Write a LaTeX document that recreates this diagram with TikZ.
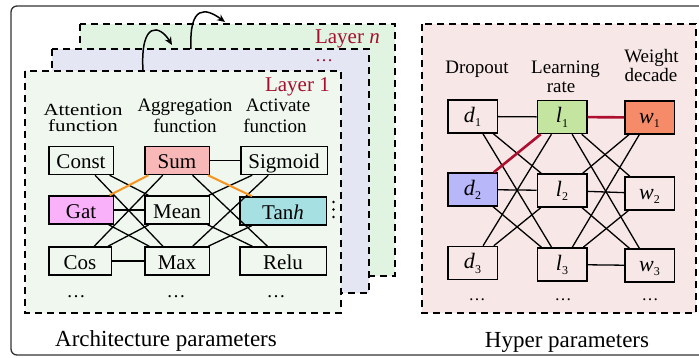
\documentclass[tikz,border=0pt]{standalone}
\usepackage{graphicx}
\usepackage{fontspec}
\setmainfont{Liberation Serif}
\usetikzlibrary{arrows.meta}
\definecolor{frameC}{HTML}{333333}
\definecolor{layerA}{HTML}{EFF7EE}
\definecolor{layerB}{HTML}{E5E6F4}
\definecolor{layerN}{HTML}{E0F4E1}
\definecolor{hyperbg}{HTML}{F8E7E7}
\definecolor{sumC}{HTML}{F9B8B8}
\definecolor{gatC}{HTML}{F9B1F9}
\definecolor{tanhC}{HTML}{A7E0E3}
\definecolor{lC}{HTML}{C3E5A0}
\definecolor{wC}{HTML}{F68B69}
\definecolor{dC}{HTML}{B7B7F9}
\definecolor{orangeline}{HTML}{F7931E}
\definecolor{redline}{HTML}{AF0F2F}
\definecolor{layertext}{HTML}{A50E2D}
\newcommand\hvar[2]{\textit{#1}\raisebox{-4.3pt}{\fontsize{12}{12}\selectfont #2}}
\newcommand\wideatt[1]{\scalebox{1.23}[1]{#1}}
\begin{document}
\begin{tikzpicture}[x=1pt,y=-1pt,
  frame/.style={draw=frameC, line width=1.3pt, rounded corners=6pt},
  dashbox/.style={draw=black, line width=2.4pt, dash pattern=on 7pt off 5pt},
  lbl/.style={font=\fontsize{19}{19}\selectfont, inner sep=0pt, anchor=base},
  attlbl/.style={font=\fontsize{17}{16}\selectfont, inner sep=0pt, align=center, anchor=base},
  title/.style={font=\fontsize{23}{23}\selectfont, inner sep=0pt, anchor=base},
  layertxt/.style={font=\fontsize{21}{21}\selectfont, text=layertext, inner sep=0pt},
  abox/.style={draw, line width=1.5pt, inner sep=0pt, minimum width=64.5pt, minimum height=28pt,
    font=\fontsize{21}{21}\selectfont, text height=17pt, text depth=0pt},
  wbox/.style={abox, minimum width=86.5pt},
  hbox/.style={draw, line width=1.5pt, inner sep=0pt, minimum width=49.5pt, minimum height=33pt,
    font=\fontsize{22}{22}\selectfont, text height=12pt, text depth=0pt},
  dotsl/.style={font=\fontsize{19}{19}\selectfont, inner sep=0pt, anchor=base},
  conn/.style={line width=1.3pt},
  orng/.style={line width=2pt, draw=orangeline},
  redl/.style={line width=2.6pt, draw=redline},
  flow/.style={line width=1.5pt, -{Stealth[length=8pt,width=7pt]}}
]
\useasboundingbox (0,0) rectangle (699,358);
\begin{scope}
\clip (0,0) rectangle (699,358);
\draw[frame] (11,6) rectangle (720,355);
\end{scope}

% layer boxes
\draw[dashbox, fill=layerN] (80,24) rectangle (395,276);
\draw[dashbox, fill=layerB] (52,49) rectangle (369,293);
\draw[dashbox, fill=layerA] (25,71) rectangle (341,313);
\draw[dashbox, fill=hyperbg] (422,24) rectangle (696,313);

% arrows between layers
\coordinate (a1s) at (143,71);
\coordinate (a1e) at (172,45);
\coordinate (a2s) at (191,49);
\coordinate (a2e) at (225,22);
\draw[flow] (a1s) .. controls (140,20) and (160,25) .. (a1e);
\draw[flow] (a2s) .. controls (189,4) and (206,8) .. (a2e);

% layer texts
\node[layertxt, anchor=base east] (lnt) at (380,43.3) {Layer \textit{n}};
\node[layertxt, anchor=base, font=\fontsize{18}{18}\selectfont] (ldots) at (324,62) {…};
\node[layertxt, anchor=base east] (l1t) at (330,91.7) {Layer 1};

% column labels
\node[attlbl] (att) at (83,131.3) {\wideatt{Attention}\\\wideatt{function}};
\node[lbl] (agg1) at (185,111.7) {Aggregation};
\node[lbl] (agg2) at (185,132.7) {function};
\node[lbl] (act1) at (278,112) {Activate};
\node[lbl] (act2) at (275,132.7) {function};

\node[lbl] (drop) at (477,74) {Dropout};
\node[lbl] (lr1) at (565.5,74) {Learning};
\node[lbl] (lr2) at (561,93) {rate};
\node[lbl] (wd1) at (651.5,62.7) {Weight};
\node[lbl] (wd2) at (651,81.7) {decade};

% architecture nodes
\node[abox] (const) at (81,160.5) {Const};
\node[abox, fill=sumC] (sum) at (177,160.5) {Sum};
\node[wbox] (sigmoid) at (284,160.5) {Sigmoid};
\node[abox, fill=gatC] (gat) at (81,210) {Gat};
\node[abox] (mean) at (177,210) {Mean};
\node[wbox, fill=tanhC] (tanh) at (283,211) {Tan\textit{h}};
\node[abox, minimum width=62.5pt] (cos) at (80,261) {Cos};
\node[abox] (max) at (177,261) {Max};
\node[wbox] (relu) at (283,261) {Relu};
\fill (333.5,202) circle (1.3pt);
\fill (333.5,209.5) circle (1.3pt);
\fill (333.5,217) circle (1.3pt);
\node[dotsl] (ad1) at (76,298) {…};
\node[dotsl] (ad2) at (176,298) {…};
\node[dotsl] (ad3) at (276,298) {…};

% architecture connectors
\draw[conn] (const) -- (mean);
\draw[conn] (const) -- (max);
\draw[conn] (gat) -- (mean);
\draw[conn] (gat) -- (max);
\draw[conn] (cos) -- (sum);
\draw[conn] (cos) -- (mean);
\draw[conn] (cos) -- (max);
\draw[conn] (sum) -- (sigmoid);
\draw[conn] (sum) -- (relu);
\draw[conn] (mean) -- (sigmoid);
\draw[conn] (mean) -- (relu);
\draw[conn] (max) -- (sigmoid);
\draw[conn] (max) -- (tanh);
\draw[orng] (gat) -- (sum);
\draw[orng] (sum) -- (tanh);

% hyper nodes
\node[hbox] (d1) at (472.5,116.5) {\hvar{d}{1}};
\node[hbox, fill=lC] (l1) at (562,117) {\hvar{l}{1}};
\node[hbox, fill=wC] (w1) at (649.5,117.5) {\hvar{w}{1}};
\node[hbox, fill=dC] (d2) at (472.5,189.5) {\hvar{d}{2}};
\node[hbox] (l2) at (562,190.5) {\hvar{l}{2}};
\node[hbox] (w2) at (649.5,193.5) {\hvar{w}{2}};
\node[hbox] (d3) at (472.5,263) {\hvar{d}{3}};
\node[hbox] (l3) at (562,264.5) {\hvar{l}{3}};
\node[hbox] (w3) at (649.5,265.5) {\hvar{w}{3}};
\node[dotsl, font=\fontsize{17}{17}\selectfont] (hd1) at (477,300) {…};
\node[dotsl, font=\fontsize{17}{17}\selectfont] (hd2) at (563,300) {…};
\node[dotsl, font=\fontsize{17}{17}\selectfont] (hd3) at (650,300) {…};

% hyper connectors
\draw[conn] (d1) -- (l1);
\draw[conn] (d1) -- (l2);
\draw[conn] (d1) -- (l3);
\draw[conn] (d2) -- (l2);
\draw[conn] (d2) -- (l3);
\draw[conn] (d3) -- (l1);
\draw[conn] (d3) -- (l2);
\draw[conn] (l1) -- (w2);
\draw[conn] (l1) -- (w3);
\draw[conn] (l2) -- (w1);
\draw[conn] (l2) -- (w2);
\draw[conn] (l2) -- (w3);
\draw[conn] (l3) -- (w1);
\draw[conn] (l3) -- (w2);
\draw[conn] (l3) -- (w3);
\draw[redl] (d2) -- (l1);
\draw[redl] (l1) -- (w1);

% titles
\node[title] (archt) at (166,346) {Architecture parameters};
\node[title] (hypt) at (567,347) {Hyper parameters};
\end{tikzpicture}
\end{document}
